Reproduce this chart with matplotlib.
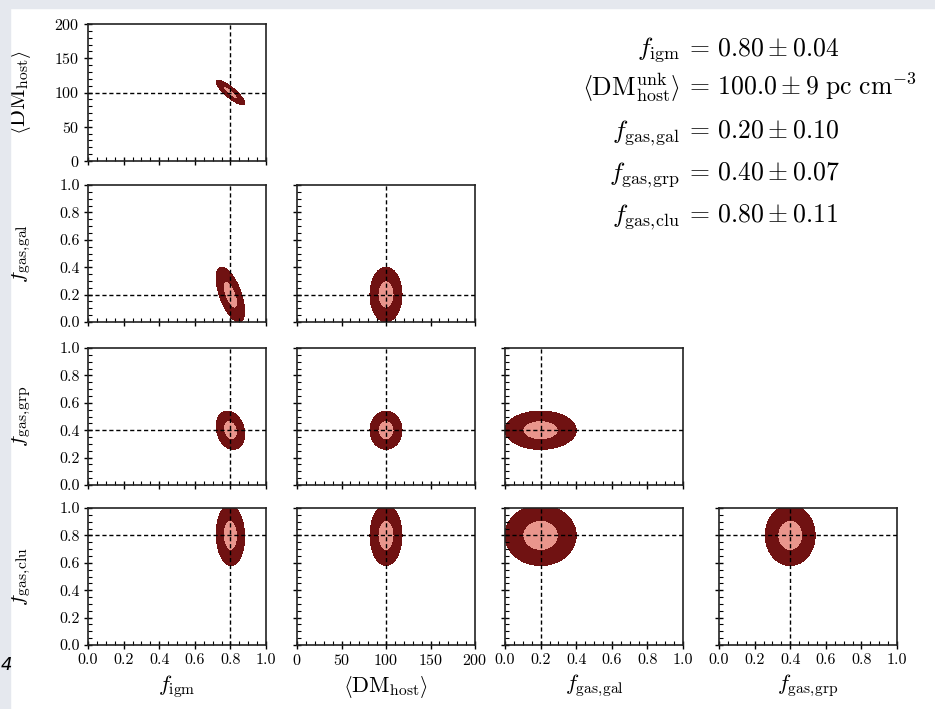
import numpy as np
import matplotlib
matplotlib.use("Agg")
import matplotlib.pyplot as plt
from matplotlib.patches import Rectangle
from matplotlib.ticker import MultipleLocator

plt.rcParams['font.family'] = 'serif'
plt.rcParams['font.serif'] = ['cmr10', 'DejaVu Serif']
plt.rcParams['mathtext.fontset'] = 'cm'
plt.rcParams['axes.formatter.use_mathtext'] = True

# angle brackets taken from cmsy10 so they keep text size
LA, RA = r'\mathcal{h}', r'\mathcal{i}'

# Fisher forecast: fiducial values, 1-sigma errors and correlations
labels = [r'$f_{\rm igm}$', rf'${LA}{{\rm DM}}_{{\rm host}}{RA}$',
          r'$f_{\rm gas,\!gal}$', r'$f_{\rm gas,\!grp}$', r'$f_{\rm gas,\!clu}$']
summary_names = [r'$f_{\rm igm}$', rf'${LA}{{\rm DM}}_{{\rm host}}^{{\rm unk}}{RA}$',
                 r'$f_{\rm gas,\!gal}$', r'$f_{\rm gas,\!grp}$', r'$f_{\rm gas,\!clu}$']
fiducial = [0.80, 100.0, 0.20, 0.40, 0.80]
sigma = [0.04, 9.0, 0.10, 0.07, 0.11]
ranges = [(0, 1), (0, 200), (0, 1), (0, 1), (0, 1)]
corr = np.eye(5)
corr[0, 1] = corr[1, 0] = -0.85
corr[0, 2] = corr[2, 0] = -0.6
corr[0, 3] = corr[3, 0] = -0.2
corr[0, 4] = corr[4, 0] = -0.05

c_outer = '#701212'
c_inner = '#e9958c'

W, H = 935, 709
fig = plt.figure(figsize=(W / 100, H / 100), dpi=100)

# light frame around the canvas
fig.patches.append(Rectangle((0, 1 - 8 / H), 1, 8 / H, transform=fig.transFigure,
                             color='#e5e8ee', zorder=0))
fig.patches.append(Rectangle((0, 0), 10 / W, 1, transform=fig.transFigure,
                             color='#e5e8ee', zorder=0))
fig.text(1 / W, 1 - 665 / H, '4', fontsize=13, style='italic',
         family='DejaVu Sans', va='center', ha='left')

col_left = [88, 297, 505, 719]
row_top = [24, 185, 348, 508]
pw, ph = 178, 137


def ellipse_fill(ax, i, j):
    # i: x parameter, j: y parameter
    sx, sy = sigma[i], sigma[j]
    r = corr[i, j]
    cov = np.array([[sx**2, r * sx * sy], [r * sx * sy, sy**2]])
    icov = np.linalg.inv(cov)
    x = np.linspace(*ranges[i], 500)
    y = np.linspace(*ranges[j], 500)
    X, Y = np.meshgrid(x, y)
    dx, dy = X - fiducial[i], Y - fiducial[j]
    chi2 = icov[0, 0] * dx**2 + 2 * icov[0, 1] * dx * dy + icov[1, 1] * dy**2
    ax.contourf(X, Y, chi2, levels=[0, 1, 4], colors=[c_inner, c_outer], zorder=1)


for row in range(4):
    j = row + 1
    for col in range(row + 1):
        i = col
        ax = fig.add_axes([col_left[col] / W, 1 - (row_top[row] + ph) / H, pw / W, ph / H])
        ellipse_fill(ax, i, j)
        ax.axvline(fiducial[i], color='k', ls=(0, (3, 2)), lw=1, zorder=3)
        ax.axhline(fiducial[j], color='k', ls=(0, (3, 2)), lw=1, zorder=3)
        ax.set_xlim(*ranges[i])
        ax.set_ylim(*ranges[j])
        if i == 1:
            ax.xaxis.set_major_locator(MultipleLocator(50))
            ax.xaxis.set_minor_locator(MultipleLocator(10))
        else:
            ax.xaxis.set_major_locator(MultipleLocator(0.2))
            ax.xaxis.set_minor_locator(MultipleLocator(0.05))
        if j == 1:
            ax.yaxis.set_major_locator(MultipleLocator(50))
            ax.yaxis.set_minor_locator(MultipleLocator(10))
        else:
            ax.yaxis.set_major_locator(MultipleLocator(0.2))
            ax.yaxis.set_minor_locator(MultipleLocator(0.05))
        ax.tick_params(which='major', direction='inout', length=6, width=1,
                       labelsize=11.5, pad=3)
        ax.tick_params(which='minor', direction='in', length=3, width=0.8)
        for s in ax.spines.values():
            s.set_linewidth(1.2)
            s.set_color('#222222')
        if row == 3:
            ax.set_xlabel(labels[i], fontsize=16, labelpad=4)
            if i != 1:
                ax.xaxis.set_major_formatter(lambda v, p: f'{v:.1f}')
        else:
            ax.tick_params(labelbottom=False)
        if col == 0:
            ax.set_ylabel(labels[j], fontsize=16)
            if j != 1:
                ax.yaxis.set_major_formatter(lambda v, p: f'{v:.1f}')
            ax.yaxis.set_label_coords(-0.31, 0.5)
        else:
            ax.tick_params(labelleft=False)

# summary of marginalised constraints
baselines = [55, 95, 138, 180, 222]
x_eq = 680
for k in range(5):
    if k == 1:
        rhs = rf'$=\,{fiducial[k]:.1f}\pm{sigma[k]:.0f}\ {{\rm pc\ cm}}^{{-3}}$'
    else:
        rhs = rf'$=\,{fiducial[k]:.2f}\pm{sigma[k]:.2f}$'
    y = 1 - baselines[k] / H
    fig.text(x_eq / W, y, summary_names[k], fontsize=18.5, ha='right', va='baseline')
    fig.text((x_eq + 5) / W, y, rhs, fontsize=18.5, ha='left', va='baseline')

fig.savefig('out.png', dpi=100)
